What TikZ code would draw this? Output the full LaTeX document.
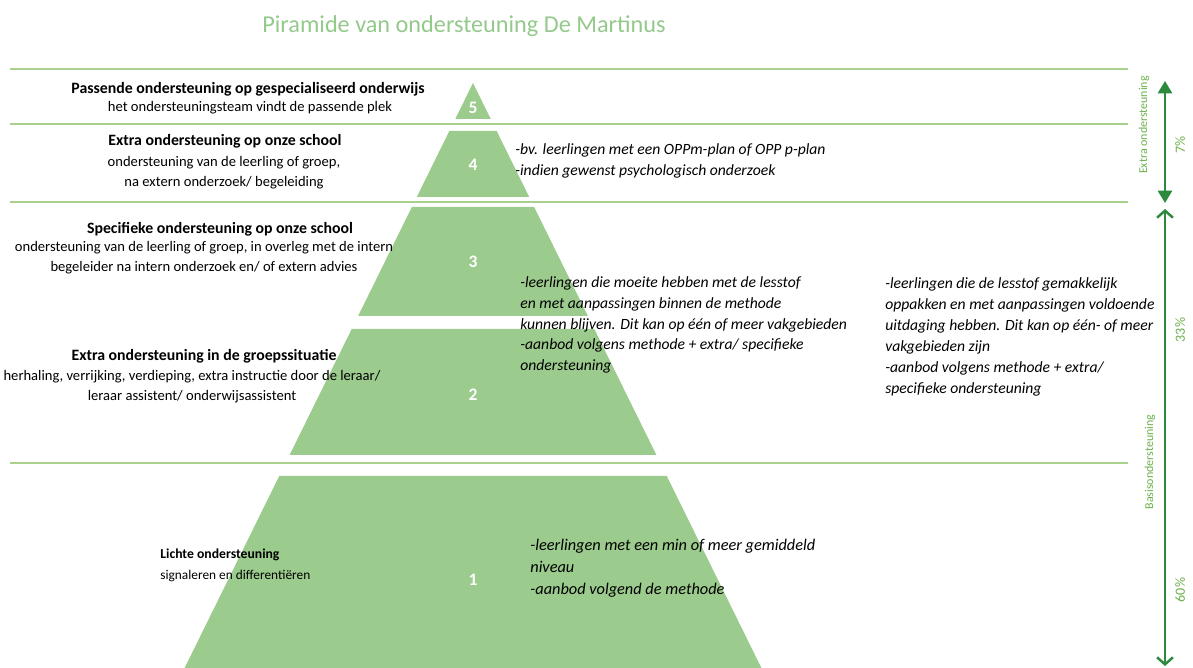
\documentclass[tikz,border=0pt]{standalone}
\usepackage{fontspec}
\setmainfont{Carlito}
\usetikzlibrary{arrows.meta}

\definecolor{pyrgreen}{HTML}{9CCB8E}
\definecolor{linegreen}{HTML}{A9D18E}
\definecolor{titlegreen}{HTML}{93C98A}
\definecolor{arrowgreen}{HTML}{2B8A3C}
\definecolor{labelgreen}{HTML}{6BB04A}

\tikzset{
  titletext/.style={text=titlegreen, font=\fontsize{13.8}{15}\selectfont, inner sep=0pt},
  heading/.style={font=\bfseries\fontsize{9}{11}\selectfont, inner sep=0pt},
  bodytext/.style={align=center, font=\fontsize{8.3}{11.4}\selectfont, inner sep=0pt},
  infotext/.style={align=left, anchor=west, font=\itshape\fontsize{8.9}{11.9}\selectfont, inner sep=0pt},
  levelnum/.style={text=white, font=\bfseries\fontsize{10}{11}\selectfont, inner sep=0pt},
  sidelabel/.style={text=labelgreen, rotate=90, font=\fontsize{6.8}{8}\selectfont, inner sep=0pt},
  percent/.style={text=labelgreen, rotate=90, font=\fontsize{8}{9}\selectfont, inner sep=0pt},
  sep/.style={draw=linegreen, line width=0.8pt}
}

\begin{document}
\begin{tikzpicture}[x=0.02cm, y=-0.02cm]
\useasboundingbox (0,0) rectangle (1193,668);

% Title
\node[titletext] (title) at (464,26) {Piramide van ondersteuning De Martinus};

% Separator lines
\foreach \y in {69,124,202,463} {
  \draw[sep] (10,\y) -- (1128,\y);
}

% Pyramid levels (number/top/bottom/label height)
\foreach \n/\t/\b/\m in {5/83/119/108, 4/131/197/165, 3/207/316/262, 2/329/455/395, 1/476/668/580} {
  \pgfmathsetmacro{\wt}{0.493*(\t-83)}
  \pgfmathsetmacro{\wb}{0.493*(\b-83)}
  \fill[pyrgreen] (473-\wt,\t) -- (473+\wt,\t) -- (473+\wb,\b) -- (473-\wb,\b) -- cycle;
  \node[levelnum] (num\n) at (473,\m) {\n};
}

% Left side descriptions
\node[heading] (head5) at (248,89) {Passende ondersteuning op gespecialiseerd onderwijs};
\node[bodytext] (body5) at (250,108) {het ondersteuningsteam vindt de passende plek};

\node[heading] (head4) at (225,141) {Extra ondersteuning op onze school};
\node[bodytext] (body4) at (224,173) {ondersteuning van de leerling of groep,\\na extern onderzoek/ begeleiding};

\node[heading] (head3) at (220,229) {Specifieke ondersteuning op onze school};
\node[bodytext] (body3) at (204,258) {ondersteuning van de leerling of groep, in overleg met de intern\\begeleider na intern onderzoek en/ of extern advies};

\node[heading] (head2) at (204,356) {Extra ondersteuning in de groepssituatie};
\node[bodytext] (body2) at (192,387) {herhaling, verrijking, verdieping, extra instructie door de leraar/\\leraar assistent/ onderwijsassistent};

\node[heading, anchor=west, font=\bfseries\fontsize{7.8}{10}\selectfont] (head1) at (160,555) {Lichte ondersteuning};
\node[bodytext, anchor=west, font=\fontsize{7.6}{10}\selectfont] (body1) at (160,576) {signaleren en differentiëren};

% Right side examples
\node[infotext] (info4) at (515,161) {-bv. leerlingen met een OPPm-plan of OPP p-plan\\-indien gewenst psychologisch onderzoek};
\node[infotext] (info3) at (520,325) {-leerlingen die moeite hebben met de lesstof\\en met aanpassingen binnen de methode\\kunnen blijven. Dit kan op één of meer vakgebieden\\-aanbod volgens methode + extra/ specifieke\\ondersteuning};
\node[infotext] (infoplus) at (885,337) {-leerlingen die de lesstof gemakkelijk\\oppakken en met aanpassingen voldoende\\uitdaging hebben. Dit kan op één- of meer\\vakgebieden zijn\\-aanbod volgens methode + extra/\\specifieke ondersteuning};
\node[infotext, font=\itshape\fontsize{9.3}{12.4}\selectfont] (info1) at (530,568) {-leerlingen met een min of meer gemiddeld\\niveau\\-aanbod volgend de methode};

% Share arrows
\coordinate (extratop) at (1165,81);
\coordinate (extrabot) at (1165,203);
\coordinate (basistop) at (1165,209);
\coordinate (basisbot) at (1165,666);
\draw[arrowgreen, line width=1.4pt, {Triangle[length=7pt,width=8pt]}-{Triangle[length=7pt,width=8pt]}] (extratop) -- (extrabot);
\draw[arrowgreen, line width=1.4pt, {Straight Barb[length=4pt,width=9pt]}-{Straight Barb[length=4pt,width=9pt]}] (basistop) -- (basisbot);

\node[sidelabel] (extralabel) at (1144,125) {Extra ondersteuning};
\node[percent] (extrapct) at (1180,145) {7\%};
\node[sidelabel] (basislabel) at (1150,462) {Basisondersteuning};
\node[percent] (midpct) at (1180,330) {33\%};
\node[percent] (lowpct) at (1180,590) {60\%};
\end{tikzpicture}
\end{document}
